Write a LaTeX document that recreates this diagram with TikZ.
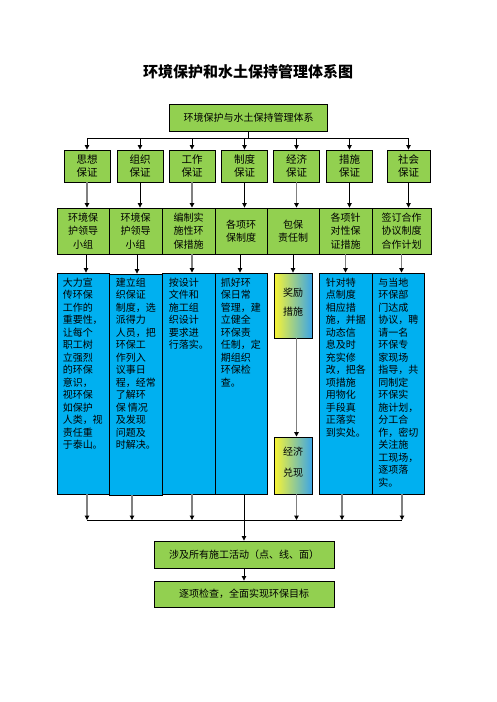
\documentclass[tikz,border=0pt]{standalone}
\usepackage{fontspec}
\setmainfont{Noto Sans CJK SC}
\usetikzlibrary{arrows.meta}
\definecolor{lgreen}{RGB}{146,208,80}
\definecolor{lblue}{RGB}{0,176,240}
\definecolor{gyel}{RGB}{250,245,50}
\definecolor{gmid}{RGB}{205,225,160}
\definecolor{gblu}{RGB}{60,165,230}
\definecolor{garrow}{RGB}{128,128,128}
\newcommand{\fsz}[2]{\fontsize{#1}{#2}\selectfont}
\tikzset{
  gbox/.style={draw=black, line width=0.9pt, fill=lgreen, inner sep=0pt, align=center},
  bbox/.style={draw=black, line width=0.9pt, fill=lblue, inner sep=0pt},
  ybox/.style={draw=black, line width=0.9pt, inner sep=0pt, left color=gyel, middle color=gmid, right color=gblu, shading angle=90},
  btxt/.style={anchor=north west, inner sep=0pt, align=left, font=\fsz{10}{12.5}},
  arr/.style={draw=black, line width=0.8pt, -{Triangle[length=4.5pt,width=4.5pt,color=black]}},
  garr/.style={draw=garrow, line width=1.6pt, -{Triangle[length=4.5pt,width=4.5pt,color=black]}},
  bus/.style={draw=black, line width=0.8pt}
}
\begin{document}
\begin{tikzpicture}[x=1pt,y=-1pt]
\useasboundingbox (0,0) rectangle (496,702);
\fill[white] (0,0) rectangle (496,702);

% title
\node[font=\fsz{15}{18}\bfseries] (title) at (248,72) {环境保护和水土保持管理体系图};

% top box
\node[gbox, minimum width=158pt, minimum height=27pt, font=\fsz{10}{12}] (T) at (248.5,117.5) {环境保护与水土保持管理体系};

% row 1
\tikzset{r1/.style={gbox, minimum width=46pt, minimum height=32pt, font=\fsz{10.5}{12.7}}}
\node[r1] (r1a) at (87,166) {思想\\保证};
\node[r1] (r1b) at (140,166) {组织\\保证};
\node[r1] (r1c) at (192,166) {工作\\保证};
\node[r1] (r1d) at (244.5,166) {制度\\保证};
\node[r1] (r1e) at (296.5,166) {经济\\保证};
\node[r1] (r1f) at (349.5,166) {措施\\保证};
\node[r1, minimum width=43pt] (r1g) at (408.5,166) {社会\\保证};

% row 2
\tikzset{r2/.style={gbox, minimum height=46pt, font=\fsz{10}{13.5}}}
\node[r2, minimum width=52pt] (r2a) at (83,231) {环境保\\护领导\\小组};
\node[r2, minimum width=53pt] (r2b) at (135.5,231) {环境保\\护领导\\小组};
\node[r2, minimum width=53pt] (r2c) at (188.5,231) {编制实\\施性环\\保措施};
\node[r2, minimum width=52pt] (r2d) at (241,231) {各项环\\保制度};
\node[r2, minimum width=52pt] (r2e) at (293,231) {包保\\责任制};
\node[r2, minimum width=53pt] (r2f) at (345.5,231) {各项针\\对性保\\证措施};
\node[r2, minimum width=59pt] (r2g) at (401.5,231) {签订合作\\协议制度\\合作计划};

% row 3 boxes
\node[bbox, minimum width=52pt, minimum height=221pt] (b1) at (83,383.5) {};
\node[bbox, minimum width=53pt, minimum height=221pt] (b2) at (135.5,384.5) {};
\node[bbox, minimum width=53pt, minimum height=221pt] (b3) at (188.5,383.5) {};
\node[bbox, minimum width=52pt, minimum height=221pt] (b4) at (241,383.5) {};
\node[ybox, minimum width=38pt, minimum height=65pt] (jl) at (293,305.5) {};
\node[ybox, minimum width=38pt, minimum height=57pt] (jj) at (293,465.5) {};
\node[bbox, minimum width=53pt, minimum height=221pt] (b6) at (345.5,383.5) {};
\node[bbox, minimum width=52pt, minimum height=221pt] (b7) at (398,383.5) {};

% row 3 texts
\node[btxt] (t1) at ([xshift=6pt,yshift=-5pt]b1.north west) {大力宣\\传环保\\工作的\\重要性，\\让每个\\职工树\\立强烈\\的环保\\意识，\\视环保\\如保护\\人类，视\\责任重\\于泰山。};
\node[btxt] (t2) at ([xshift=7pt,yshift=-4pt]b2.north west) {建立组\\织保证\\制度，选\\派得力\\人员，把\\环保工\\作列入\\议事日\\程，经常\\了解环\\保 情况\\及发现\\问题及\\时解决。};
\node[btxt] (t3) at ([xshift=7pt,yshift=-5pt]b3.north west) {按设计\\文件和\\施工组\\织设计\\要求进\\行落实。};
\node[btxt] (t4) at ([xshift=6pt,yshift=-5pt]b4.north west) {抓好环\\保日常\\管理，建\\立健全\\环保责\\任制，定\\期组织\\环保检\\查。};
\node[btxt] (t6) at ([xshift=7pt,yshift=-5pt]b6.north west) {针对特\\点制度\\相应措\\施，并据\\动态信\\息及时\\充实修\\改，把各\\项措施\\用物化\\手段真\\正落实\\到实处。};
\node[btxt] (t7) at ([xshift=6.5pt,yshift=-5pt]b7.north west) {与当地\\环保部\\门达成\\协议，聘\\请一名\\环保专\\家现场\\指导，共\\同制定\\环保实\\施计划，\\分工合\\作，密切\\关注施\\工现场，\\逐项落\\实。};
\node[align=center, inner sep=0pt, font=\fsz{10}{19}] (tjl) at (293,302.5) {奖励\\措施};
\node[align=center, inner sep=0pt, font=\fsz{10}{21}] (tjj) at (293,462.5) {经济\\兑现};

% bottom boxes
\node[gbox, minimum width=180pt, minimum height=27pt, font=\fsz{10}{12}] (S) at (244,554.5) {涉及所有施工活动（点、线、面）};
\node[gbox, minimum width=180pt, minimum height=26pt, font=\fsz{10}{12}] (E) at (244,594) {逐项检查，全面实现环保目标};

% top bus
\coordinate (barL) at (87,138);
\coordinate (barR) at (408.5,138);
\draw[bus] (barL) -- (barR);
\draw[bus] (T.south) -- (T.south |- barL);
\foreach \n in {r1a,r1b,r1c,r1d,r1e,r1f,r1g}{
  \draw[arr] (\n.north |- barL) -- (\n.north);
}

% row1 -> row2
\draw[garr] (r1a.south) -- (r1a.south |- r2a.north);
\draw[arr]  (r1b.south) -- (r1b.south |- r2b.north);
\draw[garr] (r1c.south) -- (r1c.south |- r2c.north);
\draw[arr]  (r1d.south) -- (r1d.south |- r2d.north);
\draw[garr] (r1e.south) -- (r1e.south |- r2e.north);
\draw[arr]  (r1f.south) -- (r1f.south |- r2f.north);
\draw[arr]  (r1g.south) -- (r1g.south |- r2g.north);

% row2 -> row3
\draw[arr]  ([xshift=3pt]r2a.south) -- ([xshift=3pt]r2a.south |- b1.north);
\draw[arr]  ([xshift=1.5pt]r2b.south) -- ([xshift=1.5pt]r2b.south |- b2.north);
\draw[garr] ([xshift=3.5pt]r2c.south) -- ([xshift=3.5pt]r2c.south |- b3.north);
\draw[arr]  ([xshift=-1pt]r2d.south) -- ([xshift=-1pt]r2d.south |- b4.north);
\draw[arr]  (r2e.south) -- (jl.north);
\draw[garr] (r2f.south) -- (r2f.south |- b6.north);
\draw[garr] (r2g.south) -- (r2g.south |- b7.north);

% jl -> jj
\draw[garr] ([xshift=3.5pt]jl.south) -- ([xshift=3.5pt]jj.north);

% bottom bus
\coordinate (busL) at (87,520);
\coordinate (busR) at (402,520);
\draw[bus] (busL) -- (busR);
\draw[garr] ([xshift=4pt]b1.south) -- ([xshift=4pt]b1.south |- busL);
\draw[garr] ([xshift=-3.5pt]b2.south) -- ([xshift=-3.5pt]b2.south |- busL);
\draw[garr] ([xshift=3.5pt]b3.south) -- ([xshift=3.5pt]b3.south |- busL);
\draw[garr] ([xshift=3.5pt]jj.south) -- ([xshift=3.5pt]jj.south |- busL);
\draw[garr] ([xshift=-3.5pt]b6.south) -- ([xshift=-3.5pt]b6.south |- busL);
\draw[garr] ([xshift=4pt]b7.south) -- ([xshift=4pt]b7.south |- busL);
\draw[arr] (S.north |- b4.south) -- (S.north);
\draw[arr] (S.south) -- (E.north);
\end{tikzpicture}
\end{document}
